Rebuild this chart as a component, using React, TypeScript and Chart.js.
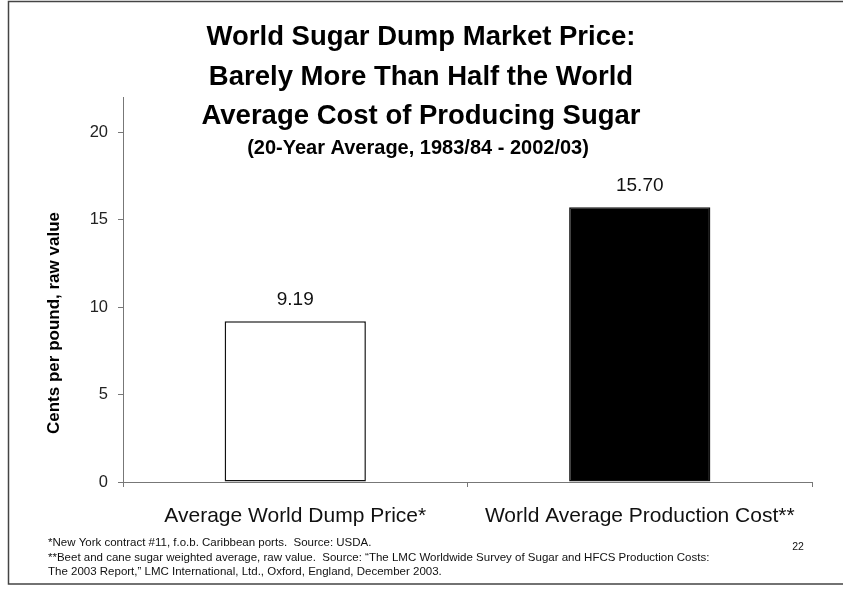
import React, { useEffect, useRef } from "react";
import { Chart, registerables } from "chart.js";

Chart.register(...registerables);

const categories = ["Average World Dump Price*", "World Average Production Cost**"];
const values = [9.19, 15.7];
const valueLabels = ["9.19", "15.70"];
const barColors = ["#ffffff", "#000000"];
const yTicks = [0, 5, 10, 15, 20];
const yMax = 22;

const titleLines = [
  "World Sugar Dump Market Price:",
  "Barely More Than Half the World",
  "Average Cost of Producing Sugar",
];
const subtitle = "(20-Year Average, 1983/84 - 2002/03)";
const yTitle = "Cents per pound, raw value";
const footnotes = [
  "*New York contract #11, f.o.b. Caribbean ports.  Source: USDA.",
  "**Beet and cane sugar weighted average, raw value.  Source: \u201CThe LMC Worldwide Survey of Sugar and HFCS Production Costs:",
  "The 2003 Report,\u201D LMC International, Ltd., Oxford, England, December 2003.",
];
const pageNumber = "22";

const FONT = "'Liberation Sans', Arial, Helvetica, sans-serif";

const decorPlugin = {
  id: "decor",
  afterDraw(chart: any) {
    const ctx = chart.ctx as CanvasRenderingContext2D;
    ctx.save();
    // frame
    ctx.strokeStyle = "#444";
    ctx.lineWidth = 1.5;
    ctx.beginPath();
    ctx.moveTo(843, 1.5);
    ctx.lineTo(8.5, 1.5);
    ctx.lineTo(8.5, 584);
    ctx.lineTo(843, 584);
    ctx.stroke();

    // title
    ctx.fillStyle = "#000";
    ctx.textAlign = "center";
    ctx.textBaseline = "alphabetic";
    ctx.font = `bold 27.5px ${FONT}`;
    titleLines.forEach((t, i) => ctx.fillText(t, 421, 45 + i * 39.5));
    ctx.font = `bold 20px ${FONT}`;
    ctx.fillText(subtitle, 418, 154);

    // y title
    ctx.save();
    ctx.translate(54, 323);
    ctx.rotate(-Math.PI / 2);
    ctx.font = `bold 17px ${FONT}`;
    ctx.textBaseline = "middle";
    ctx.fillText(yTitle, 0, 0);
    ctx.restore();

    // value labels
    const meta = chart.getDatasetMeta(0);
    ctx.font = `19px ${FONT}`;
    ctx.fillStyle = "#111";
    ctx.textAlign = "center";
    meta.data.forEach((bar: any, i: number) => {
      ctx.fillText(valueLabels[i], bar.x, bar.y - 16);
    });

    // footnotes
    ctx.textAlign = "left";
    ctx.font = `11.5px ${FONT}`;
    footnotes.forEach((f, i) => ctx.fillText(f, 48, 546 + i * 14.5));
    ctx.textAlign = "center";
    ctx.font = `10.5px ${FONT}`;
    ctx.fillText(pageNumber, 798, 550);
    ctx.restore();
  },
};

export default function App() {
  const ref = useRef<HTMLCanvasElement | null>(null);
  useEffect(() => {
    if (!ref.current) return;
    const chart = new Chart(ref.current, {
      type: "bar",
      data: {
        labels: categories,
        datasets: [
          {
            data: values,
            backgroundColor: barColors,
            borderColor: "#111",
            borderWidth: 1.5,
            borderSkipped: false,
            barPercentage: 0.41,
            categoryPercentage: 1,
          },
        ],
      },
      options: {
        responsive: false,
        animation: false,
        events: [],
        layout: { padding: { top: 97, right: 31, bottom: 0, left: 0 }, autoPadding: false },
        plugins: {
          legend: { display: false },
          title: { display: false },
          tooltip: { enabled: false },
        },
        scales: {
          x: {
            afterFit: (s: any) => {
              s.height = 108;
            },
            grid: {
              display: true,
              offset: true,
              drawOnChartArea: false,
              drawTicks: true,
              tickLength: 5,
              color: "#777",
            },
            border: { display: true, color: "#777", width: 1 },
            ticks: {
              padding: 17,
              color: "#111",
              font: { family: FONT, size: 21 },
              maxRotation: 0,
              autoSkip: false,
            },
          },
          y: {
            min: 0,
            max: yMax,
            afterFit: (s: any) => {
              s.width = 123;
            },
            afterBuildTicks: (s: any) => {
              s.ticks = yTicks.map((v) => ({ value: v }));
            },
            grid: {
              display: true,
              drawOnChartArea: false,
              drawTicks: true,
              tickLength: 5,
              color: "#777",
            },
            border: { display: true, color: "#777", width: 1 },
            ticks: {
              stepSize: 5,
              padding: 10,
              color: "#222",
              font: { family: FONT, size: 16.5 },
            },
          },
        },
      },
      plugins: [decorPlugin],
    });
    return () => chart.destroy();
  }, []);
  return (
    <div style={{ position: "absolute", left: 0, top: 0, width: 843, height: 590, background: "#fff" }}>
      <canvas ref={ref} width={843} height={590} style={{ display: "block" }} />
    </div>
  );
}
